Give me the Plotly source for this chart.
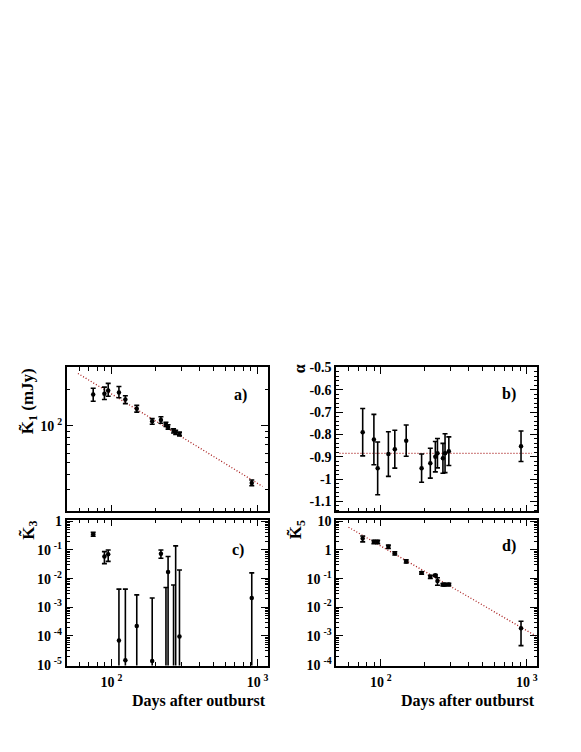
import plotly.graph_objects as go

# ---------------- data ----------------
days = [75, 89.5, 95, 112.5, 124.5, 149, 190, 218, 236, 244, 266, 275, 292, 912]

k1 = [180, 183, 194.5, 187.5, 164, 138, 109, 111.7, 103, 98, 91, 88.5, 85.8, 34.2]
k1_err_hi = [23, 24, 28, 22, 12, 9, 5.6, 7, 4, 4, 3.5, 3.5, 3, 1.9]
k1_err_lo = [21, 19, 20, 18, 12, 8.5, 5.8, 6.7, 4, 4, 3.5, 3.5, 3, 1.8]
k1_fit_x = [59, 1080]
k1_fit_y = [268, 32]

alpha = [-0.79, -0.823, -0.952, -0.888, -0.866, -0.828, -0.951, -0.929, -0.9, -0.884, -0.907, -0.884, -0.875, -0.853]
alpha_err = [0.106, 0.113, 0.118, 0.1, 0.085, 0.07, 0.063, 0.067, 0.068, 0.066, 0.067, 0.087, 0.064, 0.068]
alpha_fit_x = [52, 1083]
alpha_fit_y = [-0.885, -0.885]

k3 = [0.35, 0.059, 0.071, 6.9e-5, 1.43e-5, 2.24e-4, 1.35e-5, 0.073, 1e-7, 0.017, 1e-7, 1e-7, 9.5e-5, 2.1e-3]
k3_upper = [0.41, 0.0875, 0.1, 4.3e-3, 4.3e-3, 2.7e-3, 2.1e-3, 0.1, 4.9e-3, 0.059, 6.0e-3, 0.138, 0.02, 0.0158]
k3_lower = [0.30, 0.0333, 0.04, 1e-9, 1e-9, 1e-9, 1e-9, 0.051, 1e-9, 1e-9, 1e-9, 1e-9, 1e-9, 1e-9]

k5 = [2.49, 1.92, 1.92, 1.30, 0.77, 0.40, 0.159, 0.116, 0.13, 0.083, 0.062, 0.062, 0.063, 0.00186]
k5_err_hi = [0.59, 0.25, 0.25, 0.17, 0.1, 0.05, 0.015, 0.015, 0.01, 0.024, 0.006, 0.006, 0.006, 0.0014]
k5_err_lo = [0.57, 0.25, 0.25, 0.17, 0.1, 0.05, 0.015, 0.015, 0.01, 0.024, 0.006, 0.006, 0.006, 0.0014]
k5_fit_x = [60, 1170]
k5_fit_y = [6.2, 9.6e-4]

x_major = [100, 1000]
x_major_text = ["10\u2009<sup>2</sup>", "10\u2009<sup>3</sup>"]
x_minor = [50, 60, 70, 80, 90, 200, 300, 400, 500, 600, 700, 800, 900]

ya_major = [100]
ya_major_text = ["10\u2009<sup>2</sup>"]
ya_minor = [20, 30, 40, 50, 60, 70, 80, 90, 200, 300]

yb_major = [-0.5, -0.6, -0.7, -0.8, -0.9, -1.0, -1.1]
yb_major_text = ["-0.5", "-0.6", "-0.7", "-0.8", "-0.9", "-1", "-1.1"]

yc_major = [1e-5, 1e-4, 1e-3, 1e-2, 1e-1, 1]
yc_major_text = ["10\u2009<sup>-5</sup>", "10\u2009<sup>-4</sup>", "10\u2009<sup>-3</sup>",
                 "10\u2009<sup>-2</sup>", "10\u2009<sup>-1</sup>", "1"]
yd_major = [1e-4, 1e-3, 1e-2, 1e-1, 1, 10]
yd_major_text = ["10\u2009<sup>-4</sup>", "10\u2009<sup>-3</sup>", "10\u2009<sup>-2</sup>",
                 "10\u2009<sup>-1</sup>", "1", "10"]

# ---------------- figure ----------------
FONT = "Liberation Serif, Times New Roman, serif"
FIT_COLOR = "#a81c1c"
W, H = 581, 752

fig = go.Figure()

def marker_trace(x, y, hi, lo, xa, ya):
    return go.Scatter(
        x=x, y=y, mode="markers", xaxis=xa, yaxis=ya,
        marker=dict(color="black", size=4.5, symbol="circle"),
        error_y=dict(type="data", symmetric=False, array=hi, arrayminus=lo,
                     color="black", thickness=1.6, width=2.5),
        showlegend=False, hoverinfo="skip")

def fit_trace(x, y, xa, ya):
    return go.Scatter(x=x, y=y, mode="lines", xaxis=xa, yaxis=ya,
                      line=dict(color=FIT_COLOR, width=1.3, dash="1px,2px"),
                      showlegend=False, hoverinfo="skip")

# panel a
fig.add_trace(fit_trace(k1_fit_x, k1_fit_y, "x", "y"))
fig.add_trace(marker_trace(days, k1, k1_err_hi, k1_err_lo, "x", "y"))
# panel b
fig.add_trace(fit_trace(alpha_fit_x, alpha_fit_y, "x2", "y2"))
fig.add_trace(marker_trace(days, alpha, alpha_err, alpha_err, "x2", "y2"))
# panel c
k3_hi = [u - v for u, v in zip(k3_upper, k3)]
k3_lo = [v - l for v, l in zip(k3, k3_lower)]
fig.add_trace(marker_trace(days, k3, k3_hi, k3_lo, "x3", "y3"))
# panel d
fig.add_trace(fit_trace(k5_fit_x, k5_fit_y, "x4", "y4"))
fig.add_trace(marker_trace(days, k5, k5_err_hi, k5_err_lo, "x4", "y4"))

xL = [66.7 / W, 268.3 / W]
xR = [336.7 / W, 538.0 / W]
yT = [(H - 514.0) / H, (H - 367.3) / H]
yB = [(H - 671.0) / H, (H - 522.3) / H]

tickfont = dict(family=FONT, size=14, color="black", weight="bold")

def xaxis(domain, anchor, labels):
    return dict(domain=domain, anchor=anchor, type="log", range=[1.693, 3.07],
                showline=True, linecolor="black", linewidth=1.5, mirror="allticks",
                ticks="inside", ticklen=7, tickwidth=1, tickcolor="black",
                tickmode="array", tickvals=x_major,
                ticktext=x_major_text if labels else ["", ""],
                showticklabels=labels, tickfont=tickfont, ticklabelstandoff=3,
                minor=dict(tickmode="array", tickvals=x_minor, ticks="inside",
                           ticklen=3.5, tickwidth=1, tickcolor="black", showgrid=False),
                showgrid=False, zeroline=False)

def yaxis_log(domain, anchor, rng, major, text, minor):
    return dict(domain=domain, anchor=anchor, type="log", range=rng,
                showline=True, linecolor="black", linewidth=1.5, mirror="allticks",
                ticks="inside", ticklen=7, tickwidth=1, tickcolor="black",
                tickmode="array", tickvals=major, ticktext=text, tickfont=tickfont,
                minor=dict(tickmode="array", tickvals=minor, ticks="inside",
                           ticklen=3.5, tickwidth=1, tickcolor="black", showgrid=False),
                showgrid=False, zeroline=False)

yc_minor = [m * 10.0 ** e for e in range(-5, 0) for m in range(2, 10)]
yd_minor = [m * 10.0 ** e for e in range(-4, 1) for m in range(2, 10)]

fig.update_layout(
    width=W, height=H, autosize=False,
    margin=dict(l=0, r=0, t=0, b=0),
    paper_bgcolor="white", plot_bgcolor="white",
    font=dict(family=FONT, color="black"),
    xaxis=xaxis(xL, "y", False),
    yaxis=yaxis_log(yT, "x", [1.301, 2.477], ya_major, ya_major_text, ya_minor),
    xaxis2=xaxis(xR, "y2", False),
    yaxis2=dict(domain=yT, anchor="x2", range=[-1.145, -0.5],
                showline=True, linecolor="black", linewidth=1.5, mirror="allticks",
                ticks="inside", ticklen=7, tickwidth=1, tickcolor="black",
                tickmode="array", tickvals=yb_major, ticktext=yb_major_text,
                tickfont=tickfont,
                minor=dict(dtick=0.02, ticks="inside", ticklen=3.5, tickwidth=1,
                           tickcolor="black", showgrid=False),
                showgrid=False, zeroline=False),
    xaxis3=xaxis(xL, "y3", True),
    yaxis3=yaxis_log(yB, "x3", [-5.03, 0.058], yc_major, yc_major_text, yc_minor),
    xaxis4=xaxis(xR, "y4", True),
    yaxis4=yaxis_log(yB, "x4", [-4.03, 1.06], yd_major, yd_major_text, yd_minor),
)

afont = dict(family=FONT, size=16, color="black", weight="bold")

def ann(text, x, y, xanchor="center", yanchor="middle", angle=0, size=16):
    f = dict(afont)
    f["size"] = size
    fig.add_annotation(text=text, x=x / W, y=(H - y) / H, xref="paper", yref="paper",
                       xanchor=xanchor, yanchor=yanchor, textangle=angle,
                       showarrow=False, font=f)

# axis titles
ann("K\u0303<sub>1</sub> (mJy)", 29, 366, yanchor="top", angle=-90, size=17)
ann("α", 300, 362, yanchor="top", angle=-90)
ann("K\u0303<sub>3</sub>", 29, 521, yanchor="top", angle=-90, size=17)
ann("K\u0303<sub>5</sub>", 297, 521, yanchor="top", angle=-90, size=17)
ann("Days after outburst", 268, 707, xanchor="right")
ann("Days after outburst", 538, 707, xanchor="right")
# panel labels
ann("a)", 241, 395)
ann("b)", 510, 394)
ann("c)", 238, 553)
ann("d)", 510, 549)

fig.write_html(
    "out.html",
    config={"displayModeBar": False},
    post_script="document.body.style.margin='0';document.body.style.overflow='hidden';",
)
